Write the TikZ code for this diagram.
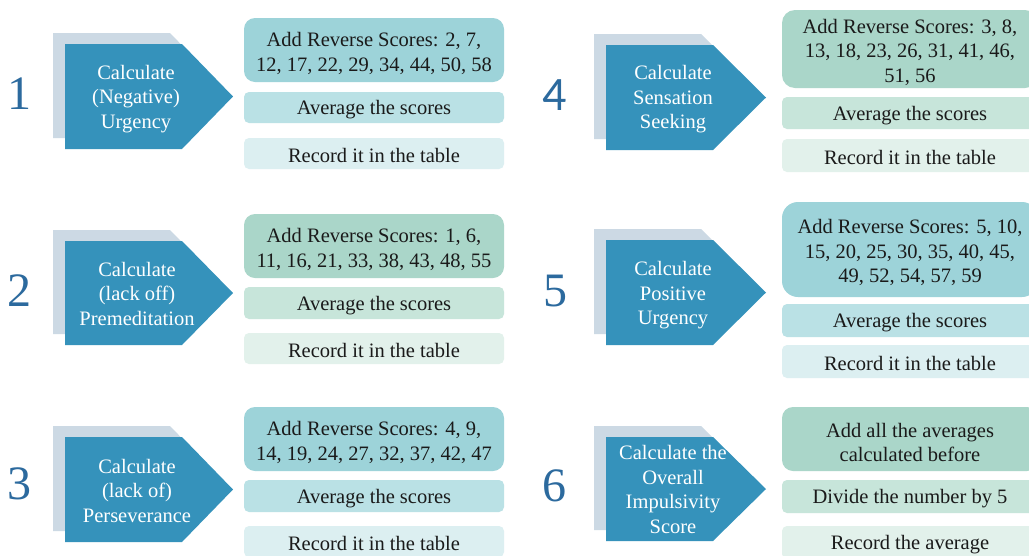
\documentclass[tikz,border=0pt]{standalone}
\usepackage{fontspec}
\setmainfont{Liberation Serif}
\newfontfamily\digitsans{Carlito}
\definecolor{tagc}{HTML}{3592BB}
\definecolor{shadowc}{HTML}{CCD9E4}
\definecolor{numblue}{HTML}{2C6A9E}
\definecolor{tealA}{HTML}{9DD3D9}
\definecolor{tealB}{HTML}{BAE1E5}
\definecolor{tealC}{HTML}{DCEFF1}
\definecolor{greenA}{HTML}{AAD6C9}
\definecolor{greenB}{HTML}{C7E5DA}
\definecolor{greenC}{HTML}{E2F1EB}
\definecolor{txt}{HTML}{1A1A1A}
\newcommand\topstrut{\rule{0pt}{21pt}}
\tikzset{
  numlabel/.style={text=numblue, inner sep=0pt, font=\fontsize{48}{48}\selectfont},
  tagtext/.style={text=white, align=center, inner sep=0pt, font=\fontsize{20.5}{24.5}\selectfont},
  stepbox/.style={text=txt, align=center, inner sep=0pt, font=\fontsize{20.5}{24.5}\selectfont,
    execute at begin node={\rule{0pt}{18.5pt}}},
  leftbox/.style={stepbox, minimum width=260pt},
  rightbox/.style={stepbox, minimum width=256pt},
}
% chevron tag with its offset backdrop: x0, y0, shoulder width, tip width, height
\newcommand\chevtag[5]{%
  \fill[shadowc] (#1-12,#2-11) -- (#1-12+#3,#2-11) -- (#1-12+#4,#2-11+#5/2)
     -- (#1-12+#3,#2-11+#5) -- (#1-12,#2-11+#5) -- cycle;
  \fill[tagc] (#1,#2) -- (#1+#3,#2) -- (#1+#4,#2+#5/2)
     -- (#1+#3,#2+#5) -- (#1,#2+#5) -- cycle;
}
\begin{document}
\begin{tikzpicture}[x=1pt,y=-1pt]
\path[use as bounding box, clip] (0,0) rectangle (1029,555);
\fill[white] (0,0) rectangle (1029,555);

% ---------- 1: negative urgency ----------
\chevtag{65}{44}{117}{168}{105}
\node[numlabel] (n1) at (20,94) {1};
\node[tagtext] (t1) at (136,99) {Calculate\\(Negative)\\Urgency};
\node[leftbox, fill=tealA, minimum height=64pt, rounded corners=11pt] (b1a) at (374,50)
  {\topstrut Add Reverse Scores: 2, 7,\\12, 17, 22, 29, 34, 44, 50, 58};
\node[leftbox, fill=tealB, minimum height=31pt, rounded corners=5pt] (b1b) at (374,107.5) {Average the scores};
\node[leftbox, fill=tealC, minimum height=31pt, rounded corners=5pt] (b1c) at (374,153.5) {Record it in the table};

% ---------- 2: premeditation ----------
\chevtag{65}{241}{117}{168}{104}
\node[numlabel] (n2) at (20,291) {2};
\node[tagtext] (t2) at (137,293.5) {Calculate\\(lack off)\\Premeditation};
\node[leftbox, fill=greenA, minimum height=64pt, rounded corners=11pt] (b2a) at (374,246)
  {\topstrut Add Reverse Scores: 1, 6,\\11, 16, 21, 33, 38, 43, 48, 55};
\node[leftbox, fill=greenB, minimum height=32pt, rounded corners=5pt] (b2b) at (374,303) {Average the scores};
\node[leftbox, fill=greenC, minimum height=31pt, rounded corners=5pt] (b2c) at (374,348.5) {Record it in the table};

% ---------- 3: perseverance ----------
\chevtag{65}{437}{117}{168}{105}
\node[numlabel] (n3) at (19,484) {3};
\node[tagtext] (t3) at (137,490.5) {Calculate\\(lack of)\\Perseverance};
\node[leftbox, fill=tealA, minimum height=64pt, rounded corners=11pt] (b3a) at (374,439)
  {\topstrut Add Reverse Scores: 4, 9,\\14, 19, 24, 27, 32, 37, 42, 47};
\node[leftbox, fill=tealB, minimum height=32pt, rounded corners=5pt] (b3b) at (374,496) {Average the scores};
\node[leftbox, fill=tealC, minimum height=31pt, rounded corners=5pt] (b3c) at (374,541.5) {Record it in the table};

% ---------- 4: sensation seeking ----------
\chevtag{606}{45}{107}{160}{105}
\node[numlabel, font={\digitsans\fontsize{48}{48}\selectfont}] (n4) at (555,95) {4};
\node[tagtext] (t4) at (673,99.5) {Calculate\\Sensation\\Seeking};
\node[rightbox, fill=greenA, minimum height=78pt, rounded corners=13pt] (b4a) at (910,49)
  {\topstrut Add Reverse Scores: 3, 8,\\13, 18, 23, 26, 31, 41, 46,\\51, 56};
\node[rightbox, fill=greenB, minimum height=32pt, rounded corners=5pt] (b4b) at (910,113) {Average the scores};
\node[rightbox, fill=greenC, minimum height=33pt, rounded corners=5pt] (b4c) at (910,155.5) {Record it in the table};

% ---------- 5: positive urgency ----------
\chevtag{606}{240}{107}{160}{105}
\node[numlabel] (n5) at (555,291) {5};
\node[tagtext] (t5) at (673,295.5) {Calculate\\Positive\\Urgency};
\node[rightbox, fill=tealA, minimum height=95pt, rounded corners=16pt] (b5a) at (910,249.5)
  {\topstrut Add Reverse Scores: 5, 10,\\15, 20, 25, 30, 35, 40, 45,\\49, 52, 54, 57, 59};
\node[rightbox, fill=tealB, minimum height=33pt, rounded corners=5pt] (b5b) at (910,320.5) {Average the scores};
\node[rightbox, fill=tealC, minimum height=33pt, rounded corners=5pt] (b5c) at (910,361.5) {Record it in the table};

% ---------- 6: overall impulsivity ----------
\chevtag{606}{437}{107}{160}{104}
\node[numlabel] (n6) at (554,486) {6};
\node[tagtext] (t6) at (673,489.5) {Calculate the\\Overall\\Impulsivity\\Score};
\node[rightbox, fill=greenA, minimum height=64pt, rounded corners=11pt] (b6a) at (910,439)
  {\topstrut Add all the averages\\calculated before};
\node[rightbox, fill=greenB, minimum height=33pt, rounded corners=5pt] (b6b) at (910,496.5) {Divide the number by 5};
\node[rightbox, fill=greenC, minimum height=33pt, rounded corners=5pt] (b6c) at (910,542.5) {Record the average};
\end{tikzpicture}
\end{document}
